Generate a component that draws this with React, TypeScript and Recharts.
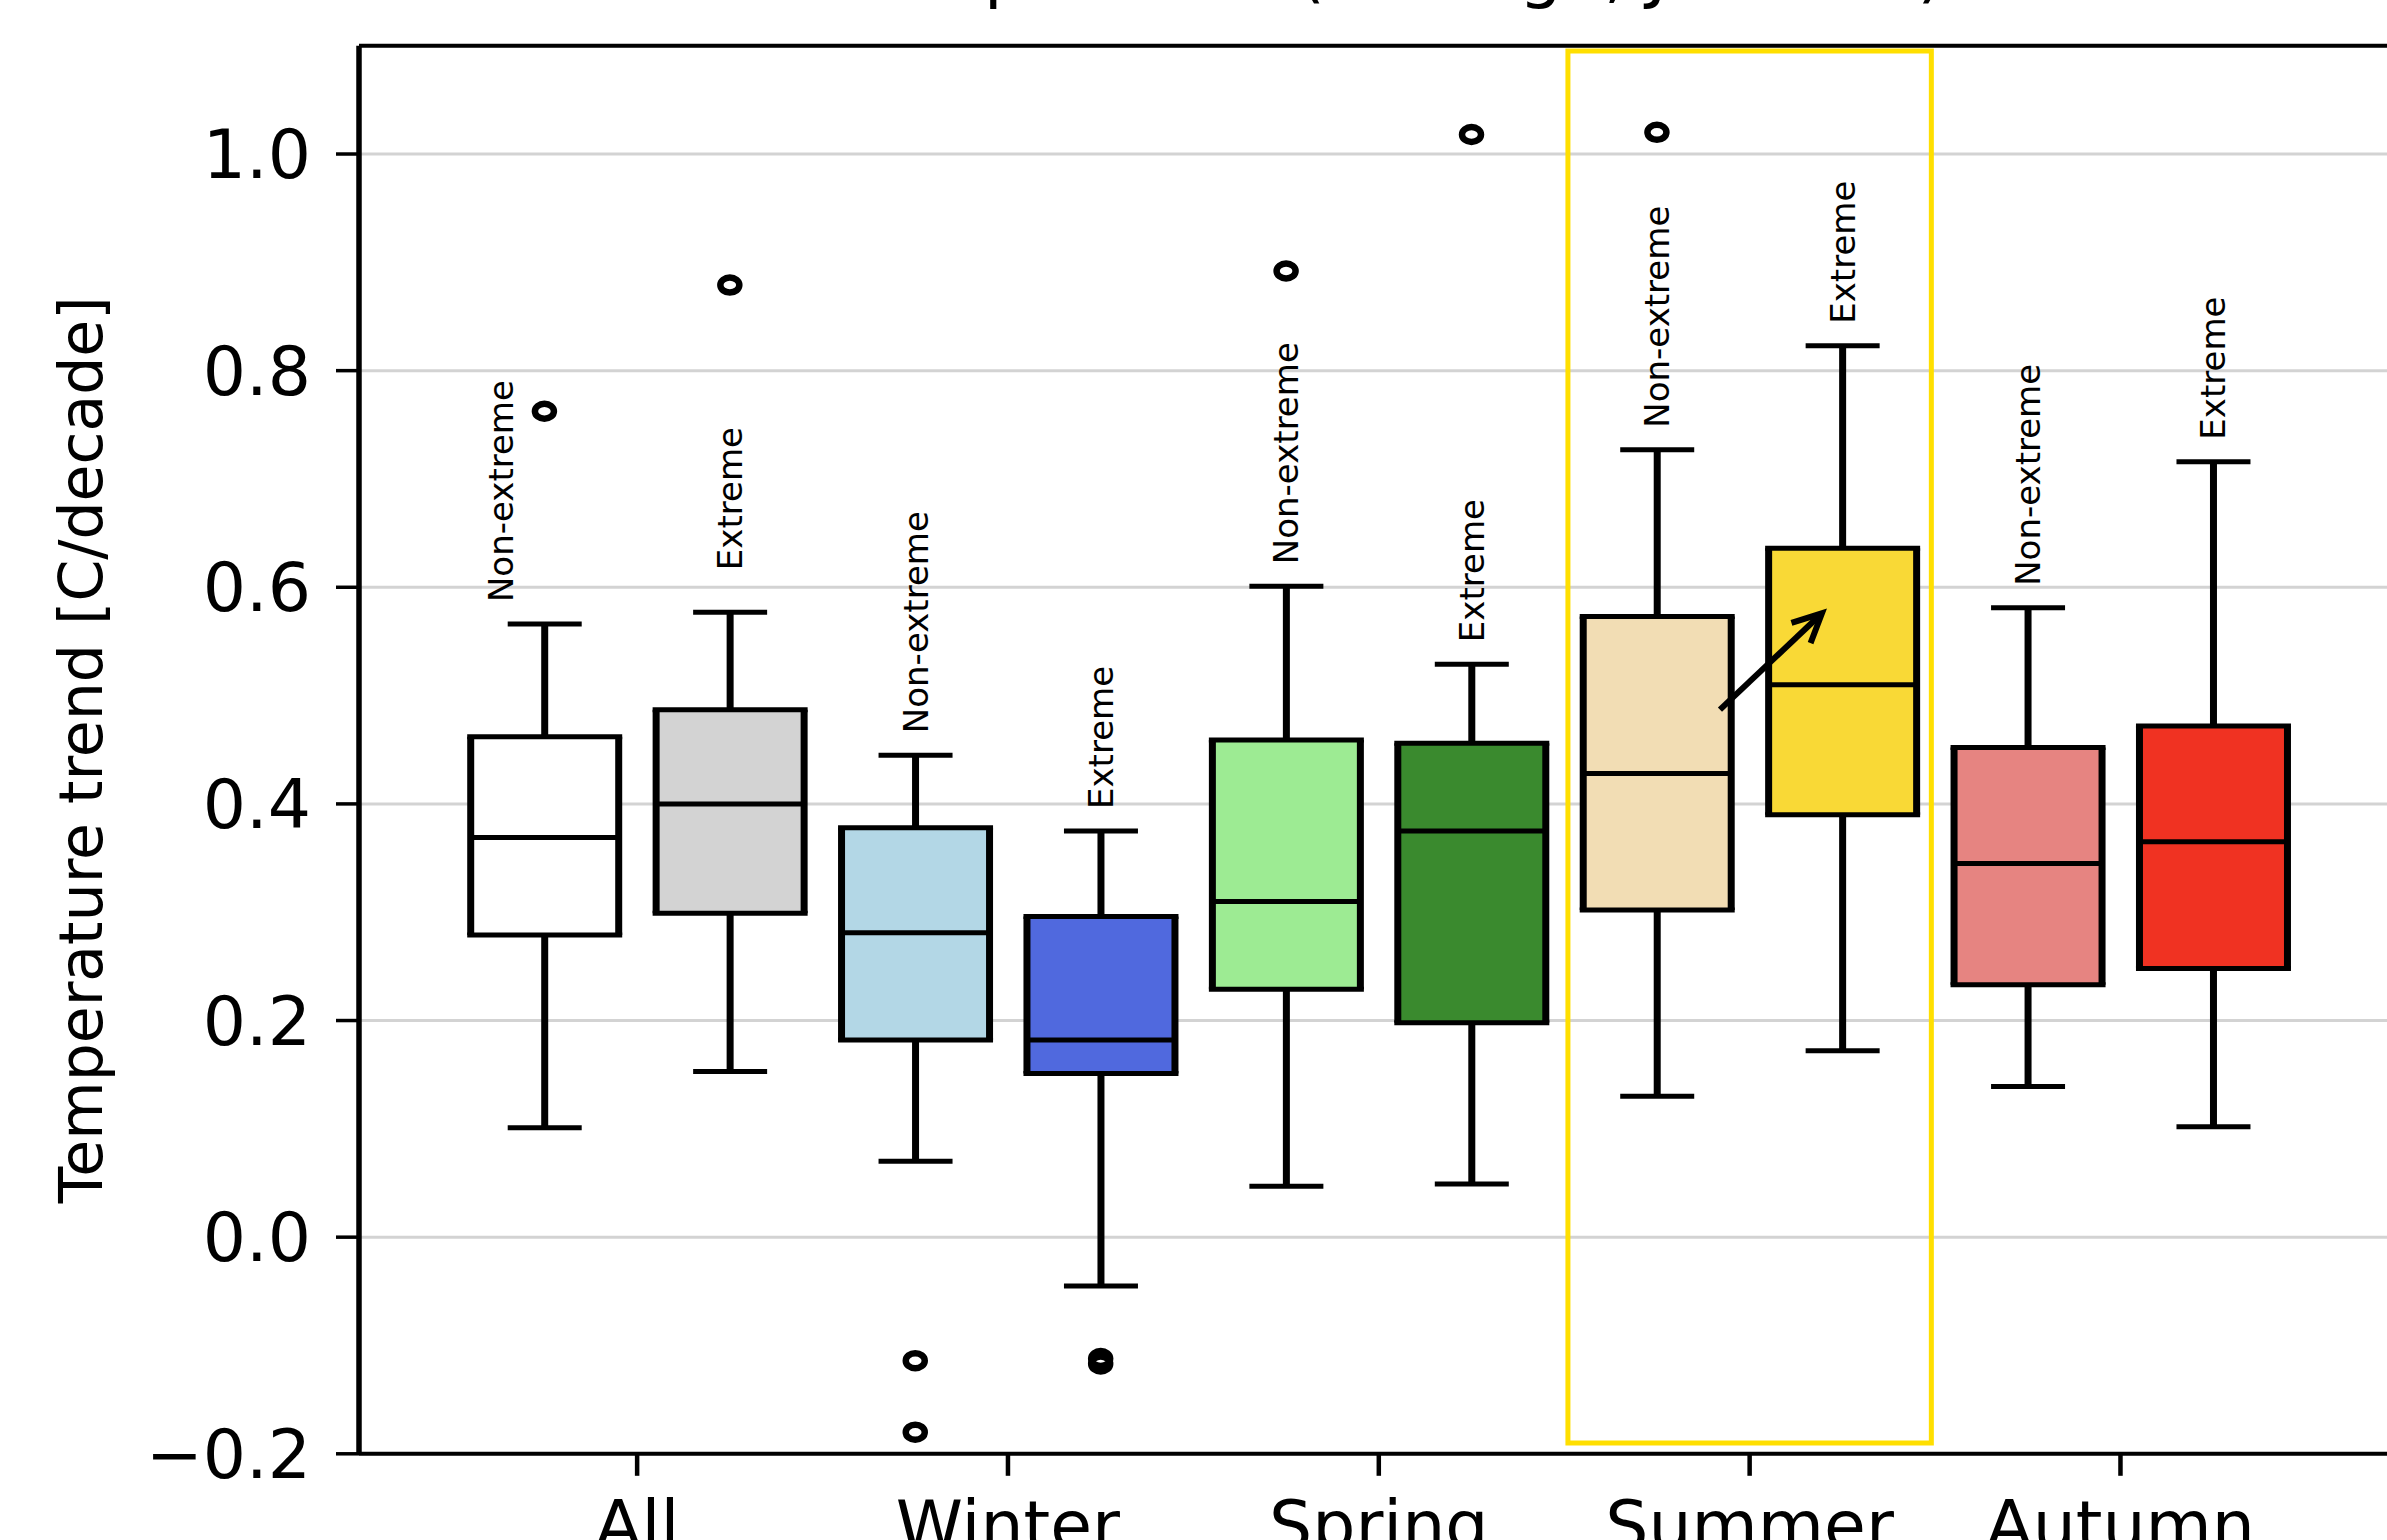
import {
  ComposedChart,
  Bar,
  Scatter,
  XAxis,
  YAxis,
  CartesianGrid,
  ReferenceArea,
  ReferenceLine,
} from "recharts"

const FONT = "DejaVu Sans, sans-serif"

// x categories (two boxes per season, ticks sit between them)
const SEASONS = ["All", "Winter", "Spring", "Summer", "Autumn"]
const SEASON_TICKS = [1.5, 3.5, 5.5, 7.5, 9.5]
const GROUPS = ["Non-extreme", "Extreme"]
const Y_TICKS = [-0.2, 0, 0.2, 0.4, 0.6, 0.8, 1.0]

// box statistics: All NE, All E, Winter NE, Winter E, Spring NE, Spring E, Summer NE, Summer E, Autumn NE, Autumn E
const POSITIONS = [1, 2, 3, 4, 5, 6, 7, 8, 9, 10]
const WHISKER_LO = [0.101, 0.153, 0.07, -0.045, 0.047, 0.049, 0.13, 0.172, 0.139, 0.102]
const Q1 = [0.279, 0.299, 0.182, 0.151, 0.229, 0.198, 0.302, 0.39, 0.233, 0.248]
const MEDIAN = [0.369, 0.4, 0.281, 0.182, 0.31, 0.375, 0.428, 0.51, 0.345, 0.365]
const Q3 = [0.462, 0.487, 0.378, 0.296, 0.459, 0.456, 0.573, 0.636, 0.452, 0.472]
const WHISKER_HI = [0.566, 0.577, 0.445, 0.375, 0.601, 0.529, 0.727, 0.823, 0.581, 0.716]
const FILLS = [
  "#ffffff", "#d3d3d3",
  "#b3d7e6", "#5069de",
  "#9deb93", "#3a8a2e",
  "#f2ddb4", "#f9d936",
  "#e68481", "#f03222",
]

// fliers
const OUTLIER_POS = [1, 2, 3, 3, 4, 4, 5, 6, 7]
const OUTLIER_VAL = [0.7625, 0.879, -0.114, -0.18, -0.112, -0.117, 0.892, 1.018, 1.02]

// summer highlight frame and arrow
const HIGHLIGHT_X = [6.52, 8.48]
const HIGHLIGHT_Y = [-0.19, 1.095]
const ARROW = [
  { x: 7.34, y: 0.487 },
  { x: 7.89, y: 0.576 },
]

const boxes = POSITIONS.map((x, i) => ({
  x,
  lo: WHISKER_LO[i],
  q1: Q1[i],
  med: MEDIAN[i],
  q3: Q3[i],
  hi: WHISKER_HI[i],
  fill: FILLS[i],
  group: GROUPS[i % 2],
}))

const outliers = OUTLIER_POS.map((x, i) => ({ x, y: OUTLIER_VAL[i] }))

// vertical strokes come out a bit heavier than horizontal ones
const LW_V = 7
const LW_H = 5
// small nudges so the first labels clear the fliers
const LABEL_DX: Record<number, number> = { 0: -44 }
const LABEL_DY: Record<number, number> = { 1: -20 }

function BoxShape(props: any) {
  const { x, y, width, height, payload, index } = props
  const top = Math.min(y, y + height)
  const bottom = Math.max(y, y + height)
  const { lo, hi } = payload
  const py = (v: number) => bottom - ((v - lo) / (hi - lo)) * (bottom - top)
  const cx = x + width / 2
  const cap = width / 4
  const yHi = py(hi)
  const yLo = py(lo)
  const yQ3 = py(payload.q3)
  const yQ1 = py(payload.q1)
  const yMed = py(payload.med)
  const lx = cx + (LABEL_DX[index] ?? 0)
  const ly = yHi - 22 + (LABEL_DY[index] ?? 0)
  const k = "#000"
  return (
    <g>
      <line x1={cx} x2={cx} y1={yHi} y2={yQ3} stroke={k} strokeWidth={LW_V} />
      <line x1={cx} x2={cx} y1={yQ1} y2={yLo} stroke={k} strokeWidth={LW_V} />
      <line x1={cx - cap} x2={cx + cap} y1={yHi} y2={yHi} stroke={k} strokeWidth={LW_H} />
      <line x1={cx - cap} x2={cx + cap} y1={yLo} y2={yLo} stroke={k} strokeWidth={LW_H} />
      <rect x={x} y={yQ3} width={width} height={yQ1 - yQ3} fill={payload.fill} />
      <line x1={x - LW_V / 2} x2={x + width + LW_V / 2} y1={yQ3} y2={yQ3} stroke={k} strokeWidth={LW_H} />
      <line x1={x - LW_V / 2} x2={x + width + LW_V / 2} y1={yQ1} y2={yQ1} stroke={k} strokeWidth={LW_H} />
      <line x1={x} x2={x} y1={yQ3} y2={yQ1} stroke={k} strokeWidth={LW_V} />
      <line x1={x + width} x2={x + width} y1={yQ3} y2={yQ1} stroke={k} strokeWidth={LW_V} />
      <line x1={x} x2={x + width} y1={yMed} y2={yMed} stroke={k} strokeWidth={LW_H} />
      <text
        transform={`translate(${lx}, ${ly}) rotate(-90)`}
        textAnchor="start"
        dominantBaseline="central"
        fontSize={34}
        fontFamily={FONT}
        fill="#000"
      >
        {payload.group}
      </text>
    </g>
  )
}

function Flier(props: any) {
  const { cx, cy } = props
  return <ellipse cx={cx} cy={cy} rx={9.5} ry={7.5} fill="none" stroke="#000" strokeWidth={6.5} />
}

function ArrowShape(props: any) {
  const { x1, y1, x2, y2 } = props
  const ang = Math.atan2(y2 - y1, x2 - x1)
  const len = 32
  const spread = 0.45
  const ax = x2 - len * Math.cos(ang - spread)
  const ay = y2 - len * Math.sin(ang - spread)
  const bx = x2 - len * Math.cos(ang + spread)
  const by = y2 - len * Math.sin(ang + spread)
  return (
    <g>
      <line x1={x1} y1={y1} x2={x2} y2={y2} stroke="#000" strokeWidth={6} />
      <polyline points={`${ax},${ay} ${x2},${y2} ${bx},${by}`} fill="none" stroke="#000" strokeWidth={6} />
    </g>
  )
}

const fmtY = (v: number) => (v < 0 ? "\u2212" : "") + Math.abs(v).toFixed(1)
const fmtX = (v: number) => SEASONS[SEASON_TICKS.indexOf(v)] ?? ""

export default function App() {
  return (
    <div
      style={{
        position: "fixed",
        left: 0,
        top: 0,
        width: 2387,
        height: 1540,
        overflow: "hidden",
        background: "#fff",
      }}
    >
      <svg width={2387} height={40} style={{ position: "absolute", left: 0, top: 0 }}>
        <text x={1395} y={-5} textAnchor="middle" fontSize={68} fontFamily={FONT} fill="#000">
          Temperature (Average, Jan–Dec)
        </text>
      </svg>
      <ComposedChart
        width={2420}
        height={1600}
        data={boxes}
        margin={{ top: 45.7, right: 21.4, bottom: 46.2, left: 109 }}
        style={{ fontFamily: FONT }}
      >
        <CartesianGrid horizontal vertical={false} stroke="#d3d3d3" strokeWidth={3} />
        <XAxis
          type="number"
          dataKey="x"
          domain={[0, 11]}
          ticks={SEASON_TICKS}
          tickFormatter={fmtX}
          height={100}
          axisLine={{ stroke: "#000", strokeWidth: 4 }}
          tickLine={{ stroke: "#000", strokeWidth: 4.5 }}
          tickSize={22}
          tickMargin={25}
          tick={{ fill: "#000", fontSize: 68 }}
          allowDataOverflow
        />
        <YAxis
          type="number"
          domain={[-0.2, 1.1]}
          ticks={Y_TICKS}
          tickFormatter={fmtY}
          width={250}
          axisLine={{ stroke: "#000", strokeWidth: 5.5 }}
          tickLine={{ stroke: "#000", strokeWidth: 3.5 }}
          tickSize={23}
          tickMargin={25}
          tick={{ fill: "#000", fontSize: 68 }}
          allowDataOverflow
          label={{
            content: (p: any) => {
              const vb = p.viewBox || { x: 109, y: 45.7, height: 1408 }
              return (
                <text
                  transform={`translate(${vb.x - 7}, ${vb.y + vb.height / 2}) rotate(-90)`}
                  textAnchor="middle"
                  fontSize={60}
                  fontFamily={FONT}
                  fill="#000"
                >
                  Temperature trend [C/decade]
                </text>
              )
            },
          }}
        />
        <ReferenceLine y={1.1} stroke="#000" strokeWidth={4} />
        <Bar
          dataKey={(d: any) => [d.lo, d.hi]}
          barSize={148}
          shape={BoxShape}
          isAnimationActive={false}
        />
        <Scatter data={outliers} dataKey="y" shape={Flier} isAnimationActive={false} />
        <ReferenceArea
          x1={HIGHLIGHT_X[0]}
          x2={HIGHLIGHT_X[1]}
          y1={HIGHLIGHT_Y[0]}
          y2={HIGHLIGHT_Y[1]}
          fill="none"
          fillOpacity={0}
          stroke="#ffdf00"
          strokeWidth={5}
        />
        <ReferenceLine segment={ARROW} shape={ArrowShape} />
      </ComposedChart>
    </div>
  )
}
